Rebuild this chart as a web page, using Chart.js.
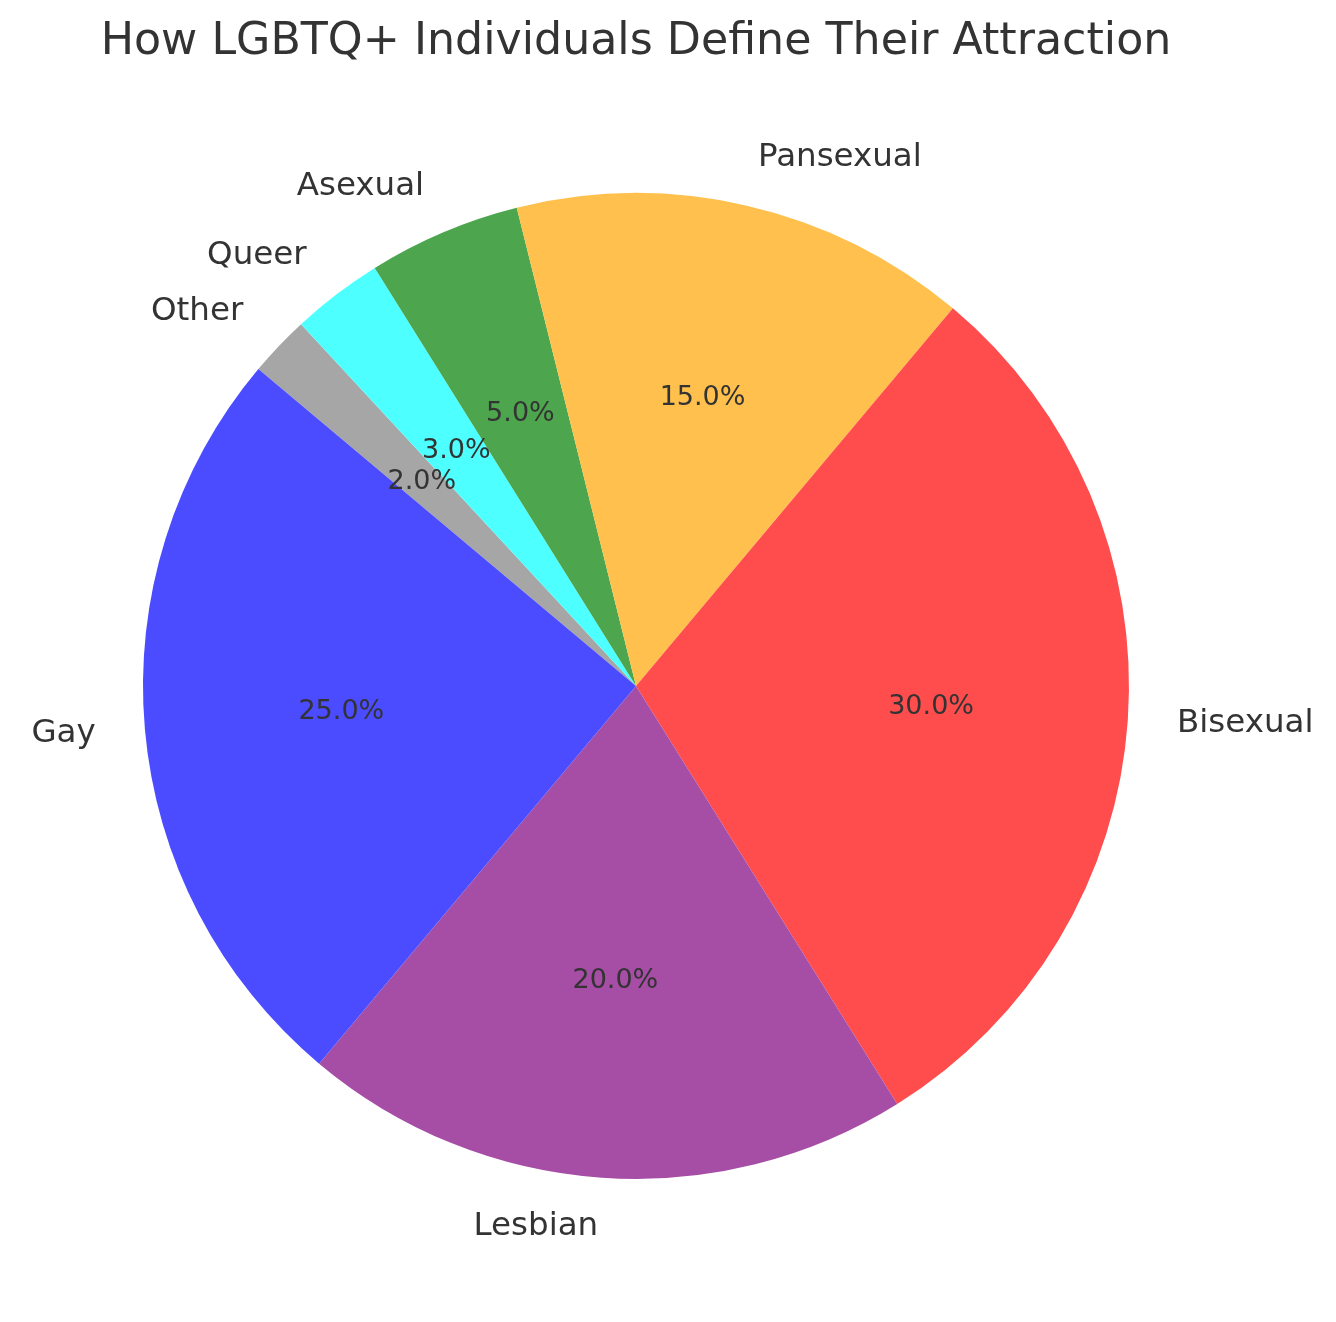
<!DOCTYPE html>
<html>
<head>
<meta charset="utf-8">
<script src="https://cdn.jsdelivr.net/npm/chart.js@4.4.1/dist/chart.umd.min.js"></script>
<style>
  html, body { margin: 0; padding: 0; background: #ffffff; }
  #wrap { width: 1336px; height: 1322px; }
</style>
</head>
<body>
<div id="wrap"><canvas id="c" width="1336" height="1322"></canvas></div>
<script>
const categories = ['Gay', 'Lesbian', 'Bisexual', 'Pansexual', 'Asexual', 'Queer', 'Other'];
const percentages = [25, 20, 30, 15, 5, 3, 2];
const sliceColors = ['#4b4bff', '#a64da6', '#ff4d4d', '#ffc04d', '#4da64d', '#4dffff', '#a6a6a6'];
const titleText = 'How LGBTQ+ Individuals Define Their Attraction';

// matplotlib draws counter-clockwise; Chart.js clockwise -> reverse order
const labelsR = categories.slice().reverse();
const valuesR = percentages.slice().reverse();
const colorsR = sliceColors.slice().reverse();

const FONT = '"DejaVu Sans", "Liberation Sans", sans-serif';
const TEXT = '#333333';

const labelPlugin = {
  id: 'pieLabels',
  afterDatasetsDraw(chart) {
    const ctx = chart.ctx;
    const meta = chart.getDatasetMeta(0);
    const total = valuesR.reduce((a, b) => a + b, 0);
    ctx.save();
    ctx.fillStyle = TEXT;
    ctx.textBaseline = 'middle';
    meta.data.forEach((arc, i) => {
      const p = arc.getProps(['x', 'y', 'startAngle', 'endAngle', 'outerRadius'], true);
      const mid = (p.startAngle + p.endAngle) / 2;
      const c = Math.cos(mid), s = Math.sin(mid);
      // outer category label
      const lx = p.x + c * p.outerRadius * 1.1;
      const ly = p.y + s * p.outerRadius * 1.1;
      ctx.font = '32.5px ' + FONT;
      ctx.textAlign = c > 1e-9 ? 'left' : (c < -1e-9 ? 'right' : 'center');
      ctx.fillText(labelsR[i], lx, ly);
      // percentage label
      const px = p.x + c * p.outerRadius * 0.6;
      const py = p.y + s * p.outerRadius * 0.6;
      ctx.font = '27px ' + FONT;
      ctx.textAlign = 'center';
      ctx.fillText((valuesR[i] / total * 100).toFixed(1) + '%', px, py);
    });
    // title
    ctx.font = '44.3px ' + FONT;
    ctx.textAlign = 'center';
    ctx.textBaseline = 'alphabetic';
    ctx.fillText(titleText, (chart.chartArea.left + chart.chartArea.right) / 2, 54);
    ctx.restore();
  }
};

new Chart(document.getElementById('c'), {
  type: 'pie',
  data: {
    labels: labelsR,
    datasets: [{
      data: valuesR,
      backgroundColor: colorsR,
      borderWidth: 0,
      hoverOffset: 0
    }]
  },
  options: {
    responsive: false,
    animation: false,
    rotation: -50,
    events: [],
    layout: { padding: { left: 143, right: 207, top: 193, bottom: 143 } },
    plugins: {
      legend: { display: false },
      tooltip: { enabled: false },
      title: { display: false }
    }
  },
  plugins: [labelPlugin]
});
</script>
</body>
</html>
